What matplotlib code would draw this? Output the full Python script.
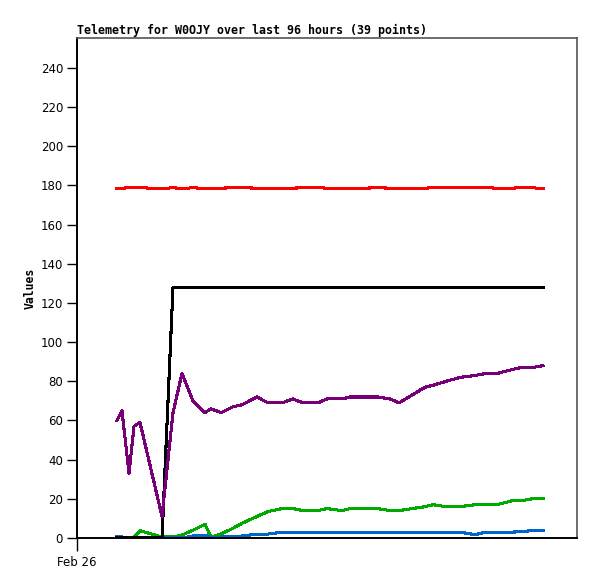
import matplotlib
matplotlib.use("Agg")
import matplotlib.pyplot as plt
import numpy as np

# sample times (hours after Feb 26 00:00)
px = [117, 122, 129, 134, 140, 162, 173, 182, 193, 205, 211, 221, 233, 242, 257,
      268, 282, 293, 303, 318, 327, 342, 350, 364, 378, 390, 399, 412, 425, 433,
      446, 460, 475, 486, 497, 512, 521, 532, 543]
hours = [(p - 77) * 96 / 500 for p in px]

red = [178.3, 178.6, 178.9, 178.9, 178.9, 178.3, 178.9, 178.3, 178.9, 178.3, 178.3,
       178.6, 178.9, 178.9, 178.6, 178.3, 178.3, 178.6, 178.9, 178.9, 178.6, 178.3,
       178.3, 178.6, 178.9, 178.6, 178.3, 178.3, 178.6, 178.9, 178.9, 178.9, 178.9,
       178.9, 178.6, 178.6, 178.9, 178.9, 178.3]
black = [0, 0, 0, 0, 0, 0] + [128] * 33
purple = [60, 65, 33, 57, 59, 11, 64, 84, 70, 64, 66, 64, 67, 68, 72, 69, 69, 71,
          69, 69, 71, 71, 72, 72, 72, 71, 69, 73, 77, 78, 80, 82, 83, 84, 84, 86,
          87, 87, 88]
green = [0.5, 0.5, 0.3, 0.5, 3.7, 0.5, 0.5, 1.5, 4, 7, 0.5, 2, 5, 7.5, 11, 13.5,
         15, 15, 14, 14, 15, 14, 15, 15, 15, 14, 14, 15, 16, 17, 16, 16, 17, 17,
         17, 19, 19, 20, 20]
blue = [0.5, 0.5, 0.3, 0.3, 0.3, 0, 0, 0, 1, 1.5, 0.3, 0.5, 1, 1, 2, 2, 3, 3, 3,
        3, 3, 3, 3, 3, 3, 3, 3, 3, 3, 3, 3, 3, 1.7, 3, 3, 3, 3.2, 3.8, 3.8]

yticks = list(range(0, 241, 20))
title = "Telemetry for W0OJY over last 96 hours (39 points)"

fig = plt.figure(figsize=(5.97, 5.79), dpi=100)
ax = fig.add_axes([77 / 597, 1 - 538 / 579, 500 / 597, 500 / 579])

lw = 1.5
for ys, c in [(red, "#ff0000"), (green, "#00aa00"), (blue, "#0066cc"),
              (black, "#000000"), (purple, "#770077")]:
    ax.plot(hours, ys, color=c, lw=lw, antialiased=False)

ax.set_xlim(0, 96)
ax.set_ylim(0, 255.3)
ax.set_yticks(yticks)
ax.set_yticklabels([str(v) for v in yticks])
ax.set_xticks([0])
ax.set_xticklabels(["Feb 26"])
ax.tick_params(axis="both", direction="out", length=7, width=1.0, labelsize=8.5,
               colors="black", pad=3)
ax.tick_params(axis="x", length=9, pad=4)
for s in ["top", "right"]:
    ax.spines[s].set_color("#555555")
    ax.spines[s].set_linewidth(1.2)
for s in ["left", "bottom"]:
    ax.spines[s].set_color("black")
    ax.spines[s].set_linewidth(1.4)
ax.set_ylabel("Values", family="DejaVu Sans Mono", fontweight="bold", fontsize=8.3,
              labelpad=3)
fig.text(77 / 597, 1 - 34 / 579, title, family="DejaVu Sans Mono",
         fontweight="bold", fontsize=8.35, ha="left", va="baseline")

fig.savefig("out.png", dpi=100)
